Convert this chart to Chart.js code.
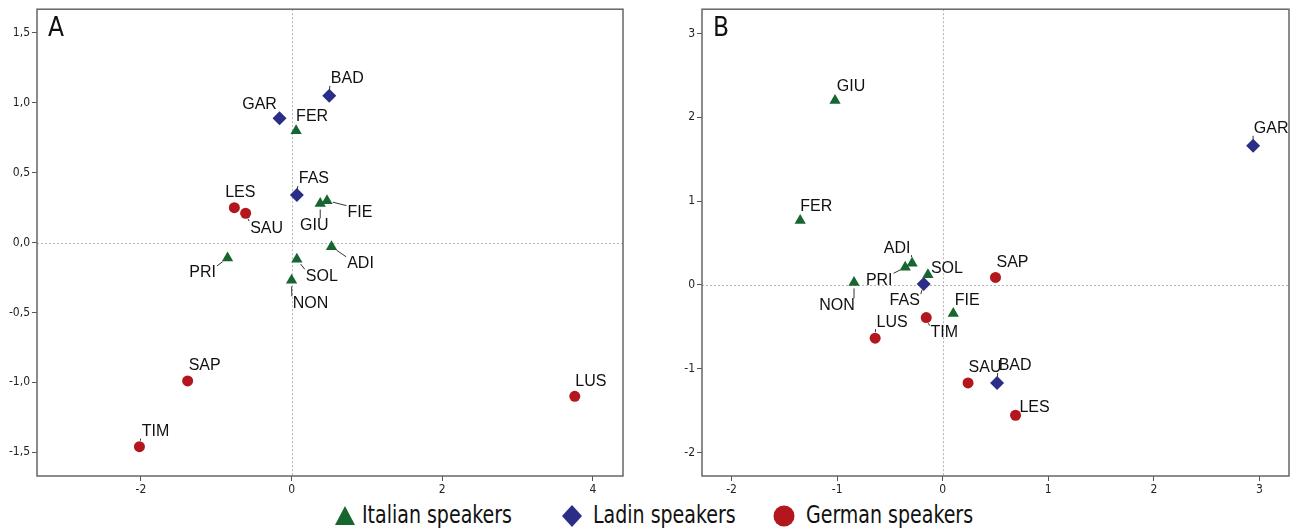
<!DOCTYPE html>
<html>
<head>
<meta charset="utf-8">
<script src="https://cdn.jsdelivr.net/npm/chart.js@4"></script>
<style>
  html,body{margin:0;padding:0;background:#fff;width:1296px;height:531px;overflow:hidden;}
  #cA{position:absolute;left:0;top:0;}
  #cB{position:absolute;left:660px;top:0;}
  .lg{position:absolute;top:500px;height:31px;font-family:"Liberation Sans Narrow","DejaVu Sans Condensed",sans-serif;font-size:24px;line-height:31px;color:#111;white-space:nowrap;transform:scaleX(0.88);transform-origin:0 50%;}
  .mk{position:absolute;}
</style>
</head>
<body>
<canvas id="cA" width="640" height="500"></canvas>
<canvas id="cB" width="636" height="500"></canvas>
<svg class="mk" style="left:334px;top:505px" width="22" height="21"><polygon points="11,1 21,20 1,20" fill="#17652f"/></svg>
<div class="lg" style="left:362px">Italian speakers</div>
<svg class="mk" style="left:561px;top:504px" width="22" height="24"><polygon points="11,1 21,12 11,23 1,12" fill="#2b2e87"/></svg>
<div class="lg" style="left:593px">Ladin speakers</div>
<svg class="mk" style="left:773px;top:505px" width="22" height="22"><circle cx="11" cy="11" r="10.5" fill="#b3161d"/></svg>
<div class="lg" style="left:806px">German speakers</div>
<script>
// ---------- DATA ----------
const italianSites = ['ADI','FER','FIE','GIU','NON','PRI','SOL'];
const ladinSites   = ['BAD','FAS','GAR'];
const germanSites  = ['LES','LUS','SAP','SAU','TIM'];

// Panel A coordinates
const italianA_x = [0.53, 0.06, 0.47, 0.38, 0.00, -0.85, 0.07];
const italianA_y = [-0.03, 0.80, 0.30, 0.28, -0.27, -0.11, -0.12];
const ladinA_x   = [0.50, 0.07, -0.16];
const ladinA_y   = [1.05, 0.34, 0.89];
const germanA_x  = [-0.76, 3.76, -1.38, -0.61, -2.02];
const germanA_y  = [0.25, -1.10, -0.99, 0.21, -1.46];

// Panel B coordinates
const italianB_x = [-0.29, -1.35, 0.10, -1.02, -0.84, -0.355, -0.14];
const italianB_y = [0.26, 0.77, -0.34, 2.20, 0.03, 0.21, 0.12];
const ladinB_x   = [0.515, -0.18, 2.94];
const ladinB_y   = [-1.17, 0.01, 1.66];
const germanB_x  = [0.69, -0.64, 0.50, 0.24, -0.156];
const germanB_y  = [-1.555, -0.635, 0.09, -1.17, -0.39];

// Tick values
const xTicksA = [-2, 0, 2, 4];
const yTicksA = [-1.5, -1.0, -0.5, 0.0, 0.5, 1.0, 1.5];
const xTicksB = [-2, -1, 0, 1, 2, 3];
const yTicksB = [-2, -1, 0, 1, 2, 3];

// ---------- STYLE / LAYOUT ----------
const COL_IT = '#17652f', COL_LA = '#2b2e87', COL_DE = '#b3161d';
const TICK_FONT = {family:'"Liberation Sans Narrow","DejaVu Sans Condensed",sans-serif', size:12};
const LABEL_FONT = '16px "Liberation Sans", Arial, sans-serif';
const LETTER_FONT = '26px "Liberation Sans Narrow","DejaVu Sans Condensed",sans-serif';

// label offsets (px, text centre relative to marker)
const labelOffsetsA = {
  ADI:[29,17], FER:[16,-14], FIE:[33,12], GIU:[-6,22], NON:[19,23], PRI:[-25,15], SOL:[25,17],
  BAD:[18,-17], FAS:[17,-16], GAR:[-20,-14],
  LES:[6,-15], LUS:[16,-15], SAP:[17,-15], SAU:[21,15], TIM:[16,-15]
};
const labelOffsetsB = {
  ADI:[-15,-15], FER:[16,-14], FIE:[14,-13], GIU:[16,-14], NON:[-17,23], PRI:[-26,13], SOL:[19,-6],
  BAD:[18,-17], FAS:[-19,17], GAR:[18,-17],
  LES:[19,-8], LUS:[17,-16], SAP:[17,-15], SAU:[17,-15], TIM:[18,15]
};

function pts(names, xs, ys){ return names.map((n,i)=>({x:xs[i], y:ys[i], name:n})); }

const labelPlugin = {
  id:'annot',
  beforeDatasetsDraw(chart, args, opts){
    const {ctx, chartArea:a, scales:{x, y}} = chart;
    ctx.save();
    ctx.strokeStyle = '#b5b5b5';
    ctx.lineWidth = 1;
    ctx.setLineDash([2,2]);
    const x0 = Math.round(x.getPixelForValue(0))+0.5;
    const y0 = Math.round(y.getPixelForValue(0))+0.5;
    ctx.beginPath();
    ctx.moveTo(x0, a.top); ctx.lineTo(x0, a.bottom);
    ctx.moveTo(a.left, y0); ctx.lineTo(a.right, y0);
    ctx.stroke();
    ctx.setLineDash([]);
    ctx.strokeStyle = '#666';
    ctx.lineWidth = 1.5;
    ctx.strokeRect(a.left, a.top, a.right - a.left, a.bottom - a.top);
    ctx.fillStyle = '#111';
    ctx.font = LETTER_FONT;
    ctx.textAlign = 'left';
    ctx.textBaseline = 'top';
    ctx.fillText(opts.letter, a.left + 11, a.top + 7);
    ctx.restore();
  },
  afterDatasetsDraw(chart, args, opts){
    const {ctx} = chart;
    ctx.save();
    ctx.font = LABEL_FONT;
    ctx.textAlign = 'center';
    ctx.textBaseline = 'middle';
    chart.data.datasets.forEach((ds, di) => {
      const meta = chart.getDatasetMeta(di);
      meta.data.forEach((el, i) => {
        const name = ds.data[i].name;
        const off = opts.offsets[name] || [15,-15];
        const px = el.x, py = el.y;
        const tx = px + off[0], ty = py + off[1];
        const w = ctx.measureText(name).width;
        const h = 12;
        const bx0 = tx - w/2 - 1, bx1 = tx + w/2 + 1, by0 = ty - h/2 - 1, by1 = ty + h/2 + 1;
        const nx = Math.max(bx0, Math.min(px, bx1));
        const ny = Math.max(by0, Math.min(py, by1));
        const dx = nx - px, dy = ny - py;
        const d = Math.hypot(dx, dy);
        const r = 6;
        if (d > r + 2) {
          ctx.strokeStyle = '#333';
          ctx.lineWidth = 1;
          ctx.beginPath();
          ctx.moveTo(px + dx/d*r, py + dy/d*r);
          ctx.lineTo(nx, ny);
          ctx.stroke();
        }
        ctx.fillStyle = '#111';
        ctx.fillText(name, tx, ty);
      });
    });
    ctx.restore();
  }
};

function makeChart(id, cfg){
  const fmt = cfg.fmt;
  return new Chart(document.getElementById(id), {
    type:'scatter',
    data:{ datasets:[
      {label:'Italian speakers', data:cfg.it, pointStyle:'triangle', pointRadius:6.5, backgroundColor:COL_IT, borderColor:COL_IT, borderWidth:0},
      {label:'Ladin speakers', data:cfg.la, pointStyle:'rectRot', pointRadius:7, backgroundColor:COL_LA, borderColor:COL_LA, borderWidth:0},
      {label:'German speakers', data:cfg.de, pointStyle:'circle', pointRadius:5.5, backgroundColor:COL_DE, borderColor:COL_DE, borderWidth:0}
    ]},
    options:{
      responsive:false, animation:false, devicePixelRatio:1,
      layout:{padding:{top:7, right:cfg.padRight, left:0, bottom:0}},
      plugins:{legend:{display:false}, tooltip:{enabled:false}, annot:{letter:cfg.letter, offsets:cfg.offsets}},
      scales:{
        x:{type:'linear', min:cfg.xr[0], max:cfg.xr[1],
           afterBuildTicks:s=>{ s.ticks = cfg.xt.map(v=>({value:v})); },
           afterFit:s=>{ s.height = 24; },
           grid:{display:true, drawOnChartArea:false, drawTicks:true, tickLength:5, tickColor:'#555', color:'rgba(0,0,0,0)'},
           border:{display:false},
           ticks:{autoSkip:false, maxRotation:0, padding:2, color:'#222', font:TICK_FONT, callback:v=>String(v)}
        },
        y:{type:'linear', min:cfg.yr[0], max:cfg.yr[1],
           afterBuildTicks:s=>{ s.ticks = cfg.yt.map(v=>({value:v})); },
           afterFit:s=>{ s.width = cfg.yw; },
           grid:{display:true, drawOnChartArea:false, drawTicks:true, tickLength:5, tickColor:'#555', color:'rgba(0,0,0,0)'},
           border:{display:false},
           ticks:{autoSkip:false, padding:2, color:'#222', font:TICK_FONT, callback:fmt}
        }
      }
    },
    plugins:[labelPlugin]
  });
}

makeChart('cA', {
  it:pts(italianSites, italianA_x, italianA_y),
  la:pts(ladinSites, ladinA_x, ladinA_y),
  de:pts(germanSites, germanA_x, germanA_y),
  xr:[-3.38, 4.40], yr:[-1.67, 1.67], xt:xTicksA, yt:yTicksA,
  fmt:v=>v.toFixed(1).replace('.', ','), letter:'A', offsets:labelOffsetsA, padRight:17, yw:37
});
makeChart('cB', {
  it:pts(italianSites, italianB_x, italianB_y),
  la:pts(ladinSites, ladinB_x, ladinB_y),
  de:pts(germanSites, germanB_x, germanB_y),
  xr:[-2.28, 3.28], yr:[-2.28, 3.29], xt:xTicksB, yt:yTicksB,
  fmt:v=>String(v), letter:'B', offsets:labelOffsetsB, padRight:4, yw:42
});
</script>
</body>
</html>
